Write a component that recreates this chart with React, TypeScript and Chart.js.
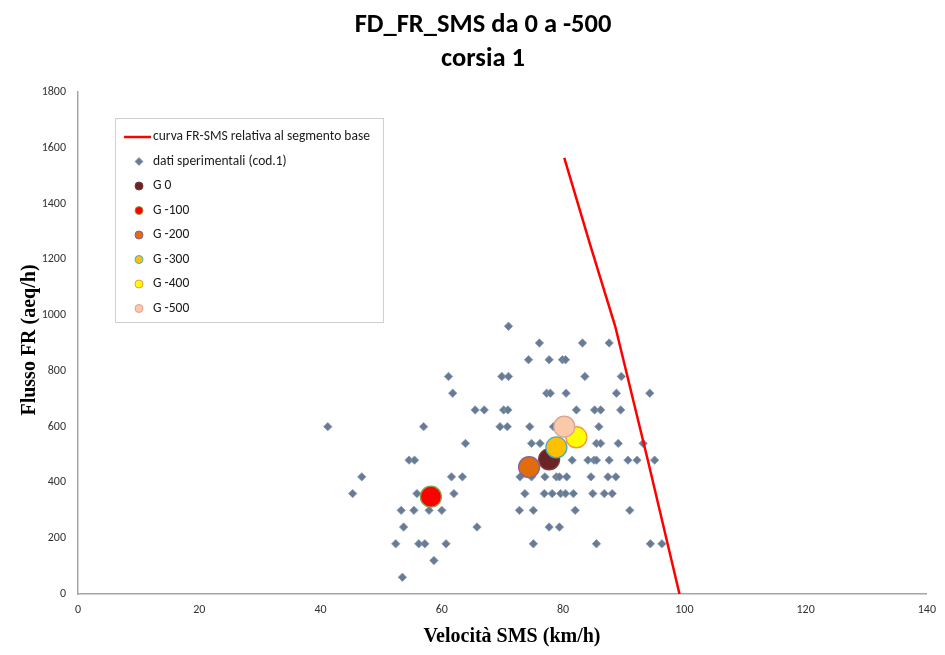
import React, { useEffect, useRef } from 'react';
import { Chart, registerables } from 'chart.js';

Chart.register(...registerables);

// ---- Text ----
const chartTitle = ['FD_FR_SMS da 0 a -500', 'corsia 1'];
const xAxisTitle = 'Velocità SMS (km/h)';
const yAxisTitle = 'Flusso FR (aeq/h)';

// ---- Axes ----
const xMin = 0;
const xMax = 140;
const xStep = 20;
const yMin = 0;
const yMax = 1800;
const yStep = 200;

// ---- Reference flow/speed curve of the base segment ----
const curveLabel = 'curva FR-SMS relativa al segmento base';
const curveSpeed = [80.2, 84.5, 88.6, 94.0, 99.2];
const curveFlow = [1564, 1250, 960, 478, 0];

// ---- Field observations (cod.1): speeds grouped by flow level ----
const obsLabel = 'dati sperimentali (cod.1)';
const obsFlowLevels = [960, 900, 840, 780, 720, 660, 600, 540, 480, 420, 360, 300, 240, 180, 120, 60];
const obsSpeedsByLevel = [
  [71.0],
  [76.1, 83.2, 87.6],
  [74.3, 77.7, 79.9, 80.4],
  [61.1, 69.9, 71.0, 83.6, 89.6],
  [61.8, 77.3, 77.9, 80.5, 88.8, 94.3],
  [65.5, 67.0, 70.2, 70.9, 82.2, 85.2, 86.2, 89.5],
  [41.2, 57.0, 69.6, 70.8, 74.5, 78.4, 85.9],
  [63.9, 74.8, 76.2, 85.5, 86.2, 89.1, 93.2],
  [54.6, 55.5, 81.5, 84.1, 85.1, 85.5, 87.6, 90.7, 92.2, 95.1],
  [46.8, 61.6, 63.4, 72.9, 74.8, 77.0, 78.9, 79.4, 80.6, 84.6, 87.4, 88.7],
  [45.3, 55.9, 62.0, 73.7, 76.9, 78.2, 79.6, 80.4, 81.7, 84.9, 86.8, 88.1],
  [53.3, 55.4, 57.9, 60.0, 72.8, 75.1, 82.0, 91.0],
  [53.7, 65.8, 77.7, 79.4],
  [52.4, 56.2, 57.2, 60.7, 75.1, 85.5, 94.4, 96.3],
  [58.7],
  [53.5],
];

// ---- Group averages G 0 ... G -500 ----
const groupLabels = ['G 0', 'G -100', 'G -200', 'G -300', 'G -400', 'G -500'];
const groupSpeed = [77.7, 58.2, 74.4, 78.9, 82.2, 80.2];
const groupFlow = [483, 349, 455, 526, 562, 600];

// ---- Styles ----
const groupFill = ['#6B2424', '#FF0000', '#E36C0A', '#FFC000', '#FFFF00', '#FAC9A9'];
const groupBorder = ['#7E3A3A', '#8E9E45', '#8064A2', '#4BACC6', '#F79646', '#D9A393'];
const obsFill = '#687B93';
const obsBorder = '#8499B5';
const curveColor = '#FF0000';

const SANS = 'Carlito, Lato, "Noto Sans", sans-serif';
const SERIF = '"Liberation Serif", "DejaVu Serif", serif';

const obsPoints = obsFlowLevels.flatMap((flow, i) =>
  obsSpeedsByLevel[i].map((speed) => ({ x: speed, y: flow }))
);
const curvePoints = curveSpeed.map((s, i) => ({ x: s, y: curveFlow[i] }));

function drawDiamond(ctx: CanvasRenderingContext2D, x: number, y: number, r: number) {
  ctx.beginPath();
  ctx.moveTo(x, y - r);
  ctx.lineTo(x + r, y);
  ctx.lineTo(x, y + r);
  ctx.lineTo(x - r, y);
  ctx.closePath();
}

// Titles, axis titles and the boxed legend inside the plot
const decorPlugin = {
  id: 'decor',
  afterDraw(chart: any) {
    const ctx: CanvasRenderingContext2D = chart.ctx;
    ctx.save();
    ctx.fillStyle = '#000000';
    ctx.textAlign = 'center';
    ctx.textBaseline = 'middle';
    ctx.font = `bold 26.5px ${SANS}`;
    ctx.fillText(chartTitle[0], 483, 25);
    ctx.fillText(chartTitle[1], 483, 59);

    ctx.font = `bold 20px ${SERIF}`;
    ctx.fillText(xAxisTitle, 512, 637);
    ctx.save();
    ctx.translate(30, 340);
    ctx.rotate(-Math.PI / 2);
    ctx.fillText(yAxisTitle, 0, 0);
    ctx.restore();

    // legend box
    const bx = 115.5, by = 118.5, bw = 268, bh = 204;
    ctx.fillStyle = '#FFFFFF';
    ctx.fillRect(bx, by, bw, bh);
    ctx.strokeStyle = '#D0D0D0';
    ctx.lineWidth = 1;
    ctx.strokeRect(bx, by, bw, bh);

    const rowY = (i: number) => 137 + i * 24.5;
    const mx = 139;
    const tx = 153;
    ctx.textAlign = 'left';
    ctx.font = `13.5px ${SANS}`;

    // curve entry
    ctx.strokeStyle = curveColor;
    ctx.lineWidth = 2.5;
    ctx.beginPath();
    ctx.moveTo(124, rowY(0));
    ctx.lineTo(151, rowY(0));
    ctx.stroke();
    ctx.fillStyle = '#1A1A1A';
    ctx.fillText(curveLabel, tx, rowY(0));

    // observations entry
    drawDiamond(ctx, mx, rowY(1), 4);
    ctx.fillStyle = obsFill;
    ctx.fill();
    ctx.strokeStyle = obsBorder;
    ctx.lineWidth = 0.8;
    ctx.stroke();
    ctx.fillStyle = '#1A1A1A';
    ctx.fillText(obsLabel, tx, rowY(1));

    groupLabels.forEach((label, i) => {
      const y = rowY(i + 2);
      ctx.beginPath();
      ctx.arc(mx, y, 4, 0, Math.PI * 2);
      ctx.fillStyle = groupFill[i];
      ctx.fill();
      ctx.strokeStyle = groupBorder[i];
      ctx.lineWidth = 1;
      ctx.stroke();
      ctx.fillStyle = '#1A1A1A';
      ctx.fillText(label, tx, y);
    });
    ctx.restore();
  },
};

export default function App() {
  const canvasRef = useRef<HTMLCanvasElement | null>(null);

  useEffect(() => {
    document.body.style.margin = '0';
    const canvas = canvasRef.current;
    if (!canvas) return;

    const datasets: any[] = [
      {
        type: 'scatter',
        label: obsLabel,
        data: obsPoints,
        pointStyle: 'rectRot',
        pointRadius: 4.2,
        pointBackgroundColor: obsFill,
        pointBorderColor: obsBorder,
        pointBorderWidth: 0.8,
        order: 20,
      },
      ...groupLabels.map((label, i) => ({
        type: 'scatter',
        label,
        data: [{ x: groupSpeed[i], y: groupFlow[i] }],
        pointStyle: 'circle',
        pointRadius: 10.5,
        pointBackgroundColor: groupFill[i],
        pointBorderColor: groupBorder[i],
        pointBorderWidth: 1.3,
        order: 10 - i,
      })),
      {
        type: 'line',
        label: curveLabel,
        data: curvePoints,
        borderColor: curveColor,
        borderWidth: 2.5,
        pointRadius: 0,
        tension: 0,
        fill: false,
        order: 0,
      },
    ];

    const plainNumber = (v: any) => String(v);

    const chart = new Chart(canvas, {
      type: 'scatter',
      data: { datasets },
      options: {
        responsive: false,
        animation: false,
        devicePixelRatio: 1,
        layout: { padding: { left: 0, top: 92, right: 16, bottom: 0 } },
        plugins: {
          legend: { display: false },
          title: { display: false },
          tooltip: { enabled: false },
        },
        scales: {
          x: {
            type: 'linear',
            min: xMin,
            max: xMax,
            grid: { display: false, drawTicks: false },
            border: { display: true, color: '#A6A6A6', width: 1.5 },
            ticks: {
              stepSize: xStep,
              padding: 9,
              color: '#333333',
              font: { family: SANS, size: 12 },
              callback: plainNumber,
            },
            afterFit: (s: any) => {
              s.height = 61;
            },
          },
          y: {
            type: 'linear',
            min: yMin,
            max: yMax,
            grid: { display: false, drawTicks: false },
            border: { display: true, color: '#A6A6A6', width: 1.5 },
            ticks: {
              stepSize: yStep,
              padding: 12,
              color: '#333333',
              font: { family: SANS, size: 12 },
              callback: plainNumber,
            },
            afterFit: (s: any) => {
              s.width = 78;
            },
          },
        },
      },
      plugins: [decorPlugin],
    });

    return () => chart.destroy();
  }, []);

  return (
    <div style={{ width: 945, height: 655, background: '#FFFFFF' }}>
      <canvas ref={canvasRef} width={945} height={655} style={{ display: 'block' }} />
    </div>
  );
}
